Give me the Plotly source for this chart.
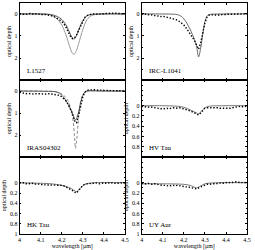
import plotly.graph_objects as go

# ---------------- data ----------------
OBS_WL = [4.00, 4.01, 4.02, 4.03, 4.04, 4.05, 4.06, 4.07, 4.08, 4.09,
          4.10, 4.11, 4.12, 4.13, 4.14, 4.15, 4.16, 4.17, 4.18, 4.19,
          4.20, 4.21, 4.22, 4.23, 4.24, 4.25, 4.26, 4.27, 4.28, 4.29,
          4.30, 4.31, 4.32, 4.33, 4.34, 4.35, 4.36, 4.37, 4.38, 4.39,
          4.40, 4.41, 4.42, 4.43, 4.44, 4.45, 4.46, 4.47, 4.48, 4.49, 4.50]

L1527_OBS = [0.00, 0.01, -0.01, 0.02, 0.00, -0.02, 0.01, -0.03, 0.00, 0.02,
             0.01, 0.03, 0.02, 0.04, 0.05, 0.07, 0.10, 0.15, 0.20, 0.27,
             0.35, 0.45, 0.60, 0.80, 1.00, 1.12, 1.10, 0.95, 0.75, 0.50,
             0.30, 0.15, 0.07, 0.03, 0.01, 0.00, 0.02, -0.01, 0.00, 0.01,
             -0.02, -0.03, -0.04, -0.03, -0.05, -0.04, -0.03, -0.02, -0.04, -0.01, 0.00]
L1527_M1_WL = [4.00, 4.10, 4.14, 4.16, 4.18, 4.20, 4.22, 4.24, 4.25, 4.26, 4.27, 4.28, 4.30, 4.32, 4.34, 4.40, 4.50]
L1527_M1 = [0.00, 0.00, 0.02, 0.05, 0.12, 0.25, 0.50, 0.90, 1.08, 1.13, 0.98, 0.72, 0.30, 0.08, 0.02, 0.00, 0.00]
L1527_M2_WL = [4.00, 4.10, 4.14, 4.16, 4.18, 4.20, 4.22, 4.24, 4.25, 4.26, 4.27, 4.28, 4.30, 4.32, 4.34, 4.36, 4.40, 4.50]
L1527_M2 = [0.00, 0.00, 0.02, 0.10, 0.25, 0.50, 0.95, 1.55, 1.78, 1.82, 1.65, 1.35, 0.70, 0.25, 0.08, 0.02, 0.00, 0.00]

L1041_OBS = [0.00, 0.02, 0.00, 0.03, 0.05, 0.04, 0.08, 0.10, 0.09, 0.12,
             0.10, 0.14, 0.15, 0.17, 0.20, 0.22, 0.25, 0.28, 0.35, 0.42,
             0.50, 0.62, 0.75, 0.90, 1.05, 1.20, 1.40, 1.60, 1.30, 0.80,
             0.40, 0.15, 0.05, 0.04, 0.05, 0.06, 0.04, 0.05, 0.03, 0.04,
             0.02, 0.01, 0.02, 0.00, 0.01, 0.00, 0.01, 0.00, -0.01, 0.00, 0.00]
L1041_M_WL = [4.00, 4.10, 4.15, 4.17, 4.19, 4.21, 4.23, 4.25, 4.26, 4.27, 4.28, 4.29, 4.30, 4.31, 4.32, 4.40, 4.50]
L1041_M = [0.00, 0.00, 0.01, 0.03, 0.12, 0.35, 0.70, 1.15, 1.45, 1.95, 1.55, 0.90, 0.35, 0.10, 0.03, 0.00, 0.00]

IRAS_OBS = [0.05, 0.08, 0.10, 0.12, 0.11, 0.13, 0.12, 0.14, 0.12, 0.13,
            0.14, 0.12, 0.13, 0.14, 0.12, 0.13, 0.14, 0.15, 0.17, 0.20,
            0.26, 0.35, 0.45, 0.60, 0.80, 1.00, 1.35, 1.45, 1.10, 0.60,
            0.25, 0.05, -0.03, -0.05, -0.06, -0.05, -0.06, -0.04, -0.05, -0.04,
            -0.03, -0.04, -0.03, -0.02, -0.03, -0.02, -0.01, -0.02, -0.01, 0.00, 0.00]
IRAS_M1_WL = [4.00, 4.10, 4.17, 4.19, 4.21, 4.23, 4.25, 4.26, 4.265, 4.27, 4.28, 4.29, 4.30, 4.31, 4.32, 4.40, 4.50]
IRAS_M1 = [0.00, 0.01, 0.03, 0.10, 0.30, 0.60, 1.00, 1.25, 1.32, 1.25, 0.95, 0.50, 0.20, 0.05, 0.00, 0.00, 0.00]
IRAS_M2_WL = [4.00, 4.10, 4.18, 4.21, 4.23, 4.25, 4.26, 4.265, 4.27, 4.28, 4.29, 4.30, 4.31, 4.32, 4.40, 4.50]
IRAS_M2 = [0.00, 0.00, 0.05, 0.20, 0.45, 1.10, 2.00, 2.60, 2.30, 1.20, 0.45, 0.15, 0.05, 0.00, 0.00, 0.00]

HV_OBS = [0.01, 0.02, 0.02, 0.03, 0.02, 0.03, 0.04, 0.05, 0.05, 0.06,
          0.05, 0.06, 0.05, 0.06, 0.05, 0.04, 0.05, 0.04, 0.04, 0.05,
          0.06, 0.07, 0.09, 0.10, 0.12, 0.14, 0.16, 0.18, 0.14, 0.09,
          0.05, 0.04, 0.04, 0.03, 0.04, 0.03, 0.04, 0.05, 0.05, 0.06,
          0.06, 0.06, 0.05, 0.04, 0.03, 0.02, 0.02, 0.01, 0.02, 0.01, 0.01]
HV_M_WL = [4.00, 4.10, 4.17, 4.20, 4.23, 4.26, 4.27, 4.28, 4.30, 4.32, 4.40, 4.50]
HV_M = [0.00, 0.00, 0.01, 0.03, 0.08, 0.14, 0.16, 0.12, 0.04, 0.01, 0.00, 0.00]

HK_OBS = [0.00, 0.01, 0.00, 0.02, 0.01, 0.02, 0.01, 0.03, 0.02, 0.02,
          0.03, 0.04, 0.04, 0.05, 0.04, 0.04, 0.05, 0.04, 0.05, 0.05,
          0.05, 0.06, 0.08, 0.10, 0.12, 0.15, 0.18, 0.20, 0.15, 0.10,
          0.05, 0.03, 0.02, 0.01, 0.02, 0.01, 0.00, 0.01, 0.02, 0.01,
          0.00, 0.01, 0.00, 0.01, 0.00, 0.01, 0.00, 0.01, 0.00, 0.01, 0.00]
HK_M_WL = [4.00, 4.10, 4.15, 4.20, 4.24, 4.27, 4.29, 4.31, 4.35, 4.50]
HK_M = [0.00, 0.01, 0.02, 0.05, 0.10, 0.17, 0.10, 0.03, 0.00, 0.00]

UY_OBS = [0.01, 0.02, 0.02, 0.01, 0.02, 0.03, 0.02, 0.03, 0.03, 0.04,
          0.05, 0.05, 0.06, 0.05, 0.06, 0.05, 0.06, 0.05, 0.06, 0.07,
          0.07, 0.08, 0.08, 0.09, 0.10, 0.11, 0.12, 0.10, 0.08, 0.06,
          0.04, 0.03, 0.03, 0.02, 0.02, 0.02, 0.01, 0.01, 0.00, 0.01,
          0.00, -0.01, 0.00, -0.01, -0.02, -0.02, -0.01, 0.00, -0.01, 0.00, 0.00]
UY_M_WL = [4.00, 4.10, 4.20, 4.23, 4.26, 4.28, 4.30, 4.35, 4.50]
UY_M = [0.02, 0.02, 0.03, 0.05, 0.10, 0.06, 0.02, 0.00, 0.00]

NAMES = ["L1527", "IRC-L1041", "IRAS04302", "HV Tau", "HK Tau", "UY Aur"]
X_TICKS = [4.0, 4.1, 4.2, 4.3, 4.4, 4.5]
X_TICKTEXT = ["4", "4.1", "4.2", "4.3", "4.4", "4.5"]
Y_TICKS_DEEP = [0, 1, 2]
Y_TICKS_SHALLOW = [0, 0.2, 0.4, 0.6, 0.8, 1]
Y_TICKTEXT_SHALLOW = ["0", "0.2", "0.4", "0.6", "0.8", "1"]

# -------------- figure ---------------
W, H = 255, 250
FONT = "Liberation Serif"
xdom = [[18 / W, 126 / W], [143 / W, 251 / W]]
rows_px = [(3, 81), (81, 159), (159, 237)]
ydom = [[1 - b / H, 1 - t / H] for t, b in rows_px]

fig = go.Figure()

panels = [
    (L1527_OBS, [(L1527_M2_WL, L1527_M2, "#9a9a9a", "solid"), (L1527_M1_WL, L1527_M1, "#555555", "solid")], "deep"),
    (L1041_OBS, [(L1041_M_WL, L1041_M, "#666666", "solid")], "deep"),
    (IRAS_OBS, [(IRAS_M2_WL, IRAS_M2, "#8a8a8a", "3px,2px"), (IRAS_M1_WL, IRAS_M1, "#555555", "solid")], "deep"),
    (HV_OBS, [(HV_M_WL, HV_M, "#777777", "solid")], "shallow"),
    (HK_OBS, [(HK_M_WL, HK_M, "#777777", "solid")], "shallow"),
    (UY_OBS, [(UY_M_WL, UY_M, "#777777", "solid")], "shallow"),
]

layout = dict(
    width=W, height=H,
    margin=dict(l=0, r=0, t=0, b=0),
    paper_bgcolor="white", plot_bgcolor="white",
    showlegend=False,
    font=dict(family=FONT, size=6, color="black"),
)
annotations = []

for i, (obs, models, kind) in enumerate(panels):
    r, c = divmod(i, 2)
    n = i + 1
    xa = "x" if n == 1 else f"x{n}"
    ya = "y" if n == 1 else f"y{n}"
    for wl, vals, col, dash in models:
        fig.add_trace(go.Scatter(x=wl, y=vals, mode="lines", xaxis=xa, yaxis=ya,
                                 line=dict(color=col, width=1, dash=dash, shape="spline", smoothing=0.8),
                                 hoverinfo="skip"))
    fig.add_trace(go.Scatter(x=OBS_WL, y=obs, mode="lines", xaxis=xa, yaxis=ya,
                             line=dict(color="black", width=1.4, dash="1.4px,1.8px"),
                             hoverinfo="skip"))
    bottom = (r == 2)
    xaxis = dict(domain=xdom[c], range=[4.0, 4.5], anchor=ya, showline=True, mirror="ticks",
                 linecolor="black", linewidth=0.8, ticks="inside", ticklen=2, tickcolor="black",
                 tickvals=X_TICKS, ticktext=X_TICKTEXT, showticklabels=bottom, showgrid=False,
                 zeroline=False, tickfont=dict(size=6, family=FONT))
    if bottom:
        xaxis["title"] = dict(text="wavelength [μm]", font=dict(size=6, family=FONT), standoff=0)
    if kind == "deep":
        yvals, ytext, yr = Y_TICKS_DEEP, ["0", "1", "2"], [3, -0.5]
        minor = dict(dtick=0.5, ticks="inside", ticklen=1, tickcolor="black")
    else:
        yvals, ytext, yr = Y_TICKS_SHALLOW, Y_TICKTEXT_SHALLOW, [1, -0.5]
        if r == 1:
            yvals, ytext = yvals[:-1], ytext[:-1]
        minor = dict(dtick=0.1, ticks="inside", ticklen=1, tickcolor="black")
    yaxis = dict(domain=ydom[r], range=yr, anchor=xa, showline=True, mirror="ticks",
                 linecolor="black", linewidth=0.8, ticks="inside", ticklen=2, tickcolor="black",
                 tickvals=yvals, ticktext=ytext, showgrid=False, zeroline=False,
                 tickfont=dict(size=6, family=FONT), minor=minor,
                 title=dict(text="optical depth", font=dict(size=6, family=FONT), standoff=2))
    layout["xaxis" if n == 1 else f"xaxis{n}"] = xaxis
    layout["yaxis" if n == 1 else f"yaxis{n}"] = yaxis
    annotations.append(dict(text=NAMES[i], xref="paper", yref="paper",
                            x=xdom[c][0] + 6 / W, y=ydom[r][0] + 3 / H,
                            xanchor="left", yanchor="bottom", showarrow=False,
                            font=dict(size=7, family=FONT, color="black")))

layout["annotations"] = annotations
fig.update_layout(**layout)
fig.write_html("out.html")
